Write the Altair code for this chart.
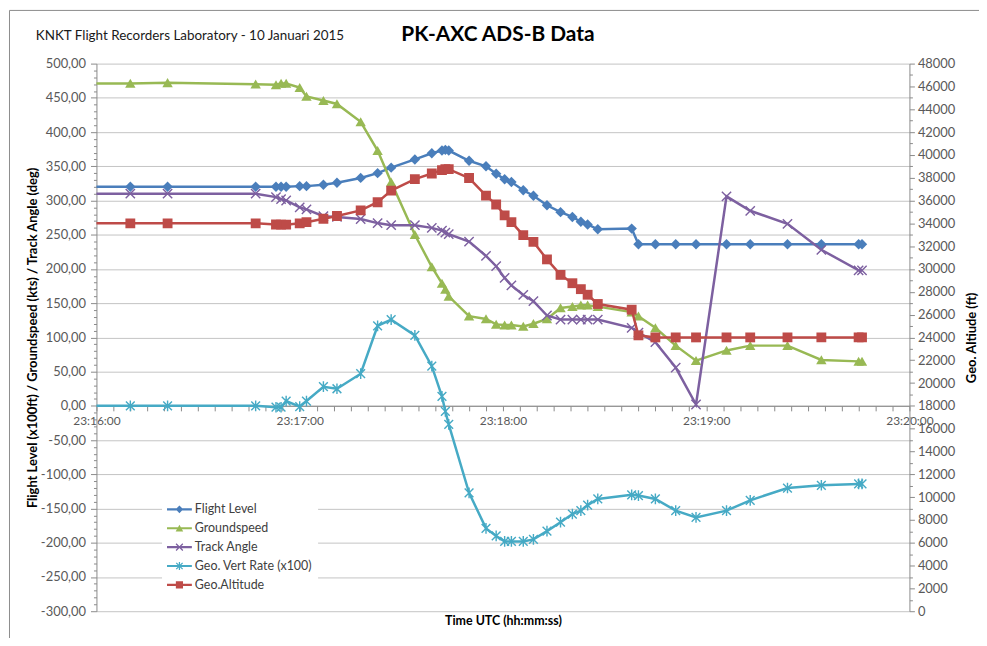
import altair as alt
import pandas as pd

# ---------------- data (seconds after 23:16:00) ----------------
T = [-10, 10, 21, 47, 53, 54.5, 56, 60, 62, 67,
     71, 78, 83, 87, 94, 99, 102, 103, 104, 110,
     115, 118, 120.5, 122.5, 126, 129, 133, 137, 140.5, 143,
     145, 148, 158, 160, 165, 171, 177, 186, 193, 204,
     214, 225, 226]

FLIGHT_LEVEL = [320, 320, 320, 320, 320, 320, 320, 321, 321, 323,
                326, 333, 340, 348, 360, 369, 373, 374, 373, 358,
                350, 339, 331, 327, 315, 307, 293, 283, 276, 269,
                265, 258, 259, 236, 236, 236, 236, 236, 236, 236,
                236, 236, 236]

GROUNDSPEED = [471, 471, 472, 470, 469, 471, 471, 465, 452, 446,
               441, 415, 373, 327, 250, 203, 179, 170, 160, 131,
               127, 119, 118, 118, 116, 120, 127, 143, 145, 147,
               147, 145, 137, 131, 114, 88, 66, 81, 88, 88,
               67, 65, 65]

TRACK_ANGLE = [310, 310, 310, 310, 305, 302, 300, 290, 287, 277,
               276, 273, 267, 264, 264, 260, 256, 253, 251, 240,
               219, 204, 187, 176, 162, 153, 132, 126, 126, 126,
               126, 126, 114, 107, 93, 56, 2, 306, 285, 266,
               228, 198, 198]

VERT_RATE = [0, 0, 0, 0, -2, -2, 7, -1, 7, 28,
             25, 47, 117, 126, 103, 58, 14, -8, -27, -127,
             -179, -190, -198, -198, -198, -195, -183, -170, -158, -153,
             -145, -136, -130, -131, -136, -153, -163, -153, -138, -120,
             -116, -114, -114]

GEO_ALT = [34000, 34000, 34000, 34000, 33900, 33880, 33880, 34000, 34100, 34400,
           34640, 35130, 35850, 36870, 37880, 38370, 38660, 38750, 38750, 37970,
           36430, 35650, 34700, 34110, 32960, 32370, 30840, 29480, 28750, 28230,
           27740, 26930, 26430, 24180, 24000, 24000, 24000, 24000, 24000, 24000,
           24000, 24000, 24000]

SERIES = ["Flight Level", "Groundspeed", "Track Angle", "Geo. Vert Rate (x100)", "Geo.Altitude"]
COLORS = ["#4A7EBB", "#98B954", "#7D60A0", "#46AAC5", "#BE4B48"]

X_TICKS = list(range(0, 241, 5))
LEFT_TICKS = list(range(-300, 501, 10))
RIGHT_TICKS = list(range(0, 48001, 1000))

TITLE = ["PK-AXC ADS-B Data"]
SUBTITLE = ["KNKT Flight Recorders Laboratory - 10 Januari 2015"]

# ---------------- marker shapes ----------------
def poly(pts):
    n = len(pts)
    a = sum(pts[i][0] * pts[(i + 1) % n][1] - pts[(i + 1) % n][0] * pts[i][1] for i in range(n))
    if a > 0:
        pts = pts[::-1]
    return "M" + "L".join(f"{x:.3f},{y:.3f}" for x, y in pts) + "Z"


def bar(x1, y1, x2, y2, hw):
    dx, dy = x2 - x1, y2 - y1
    L = (dx * dx + dy * dy) ** 0.5
    nx, ny = -dy / L * hw, dx / L * hw
    return poly([(x1 + nx, y1 + ny), (x2 + nx, y2 + ny), (x2 - nx, y2 - ny), (x1 - nx, y1 - ny)])


def marker_paths(s, hw):
    diamond = poly([(0, -0.95 * s), (0.95 * s, 0), (0, 0.95 * s), (-0.95 * s, 0)])
    tri = poly([(0, -0.85 * s), (0.95 * s, 0.8 * s), (-0.95 * s, 0.8 * s)])
    xm = bar(-0.85 * s, -0.85 * s, 0.85 * s, 0.85 * s, hw) + bar(-0.85 * s, 0.85 * s, 0.85 * s, -0.85 * s, hw)
    star = (bar(-0.8 * s, -0.8 * s, 0.8 * s, 0.8 * s, hw) + bar(-0.8 * s, 0.8 * s, 0.8 * s, -0.8 * s, hw)
            + bar(0, -0.98 * s, 0, 0.98 * s, hw))
    sq = poly([(-0.9 * s, -0.9 * s), (0.9 * s, -0.9 * s), (0.9 * s, 0.9 * s), (-0.9 * s, 0.9 * s)])
    return [diamond, tri, xm, star, sq]


DATA_SHAPES = marker_paths(1.0, 0.13)
LINE_SEG = bar(-1, 0, 1, 0, 0.085)
LEGEND_SHAPES = [LINE_SEG + p for p in marker_paths(0.32, 0.05)]

# ---------------- layout ----------------
W, H = 818, 551
FONT = "Lato"
AXIS_GRAY = "#8a8a8a"
LABEL_COLOR = "#595959"

left_df = pd.concat(
    [pd.DataFrame({"t": T, "value": vals, "series": name})
     for name, vals in zip(SERIES[:4], [FLIGHT_LEVEL, GROUNDSPEED, TRACK_ANGLE, VERT_RATE])],
    ignore_index=True,
)
right_df = pd.DataFrame({"t": T, "value": GEO_ALT, "series": SERIES[4]})

x_axis = alt.Axis(
    values=X_TICKS,
    labelExpr="datum.value % 60 === 0 ? '23:' + (16 + datum.value / 60) + ':00' : ''",
    labelOverlap=False,
    labelFlush=False,
    offset=-H * 300 / 800,
    grid=False,
    domainColor=AXIS_GRAY,
    tickColor=AXIS_GRAY,
    tickSize=5,
    labelPadding=5,
    labelFont=FONT,
    labelFontSize=12,
    labelColor=LABEL_COLOR,
    title="Time UTC (hh:mm:ss)",
    titleFont=FONT,
    titleFontSize=12.5,
    titleFontWeight="bold",
    titleColor="#000000",
    titleBaseline="middle",
    titleY=216,
)
x_enc = alt.X("t:Q", scale=alt.Scale(domain=[0, 240], nice=False, zero=False), axis=x_axis)

color_scale = alt.Scale(domain=SERIES, range=COLORS)

left_axis = alt.Axis(
    values=LEFT_TICKS,
    labelExpr="datum.value % 50 === 0 ? (datum.value < 0 ? '-' : '') + replace(format(abs(datum.value), '.2f'), '.', ',') : ''",
    labelOverlap=False,
    grid=True,
    gridColor="#c4c4c4",
    gridWidth=1,
    gridOpacity={"condition": {"test": "datum.value % 50 === 0", "value": 1}, "value": 0},
    tickSize={"condition": {"test": "datum.value % 50 === 0", "value": 6}, "value": 3},
    tickColor=AXIS_GRAY,
    domainColor=AXIS_GRAY,
    labelPadding=5,
    labelFont=FONT,
    labelFontSize=13,
    labelColor=LABEL_COLOR,
    title="Flight Level (x100ft) / Groundspeed (kts) / Track Angle (deg)",
    titleFont=FONT,
    titleFontSize=13,
    titleFontWeight="bold",
    titleColor="#000000",
    titleAngle=270,
    titleAlign="center",
    titleBaseline="middle",
    titleX=-64,
    titleY=H / 2,
)
left_y = alt.Y("value:Q", scale=alt.Scale(domain=[-300, 500], nice=False, zero=False), axis=left_axis)

right_axis = alt.Axis(
    orient="right",
    values=RIGHT_TICKS,
    labelExpr="datum.value % 2000 === 0 ? '' + datum.value : ''",
    labelOverlap=False,
    grid=False,
    tickSize={"condition": {"test": "datum.value % 2000 === 0", "value": 5}, "value": 3},
    tickColor=AXIS_GRAY,
    domainColor=AXIS_GRAY,
    labelPadding=3,
    labelFont=FONT,
    labelFontSize=13,
    labelColor=LABEL_COLOR,
    title="Geo. Altiude (ft)",
    titleFont=FONT,
    titleFontSize=13,
    titleFontWeight="bold",
    titleColor="#000000",
    titleAngle=270,
    titleAlign="center",
    titleBaseline="middle",
    titleX=62,
    titleY=H / 2,
)
right_y = alt.Y("value:Q", scale=alt.Scale(domain=[0, 48000], nice=False, zero=False), axis=right_axis)


def group(df, y_enc):
    line = alt.Chart(df).mark_line(strokeWidth=2.5, clip=True).encode(
        x=x_enc, y=y_enc,
        color=alt.Color("series:N", scale=color_scale, legend=None),
        detail="series:N",
    )
    pts = alt.Chart(df).mark_point(filled=True, opacity=1, size=121, clip=True).encode(
        x=x_enc, y=y_enc,
        color=alt.Color("series:N", scale=color_scale, legend=None),
        shape=alt.Shape("series:N", scale=alt.Scale(domain=SERIES, range=DATA_SHAPES), legend=None),
    )
    return alt.layer(line, pts)


left_group = group(left_df, left_y)
right_group = group(right_df, right_y)

legend_def = alt.Legend(
    title=None,
    orient="none",
    legendX=66,
    legendY=431,
    fillColor="#ffffff",
    padding=5,
    symbolSize=625,
    rowPadding=-6,
    labelOffset=3,
    labelFont=FONT,
    labelFontSize=12.5,
    labelColor="#404040",
    symbolStrokeWidth=0,
)
legend_layer = alt.Chart(left_df).mark_point(filled=True, opacity=1).encode(
    color=alt.Color("series:N", scale=color_scale, legend=legend_def),
    shape=alt.Shape("series:N", scale=alt.Scale(domain=SERIES, range=LEGEND_SHAPES), legend=legend_def),
).transform_filter("false")

title_layer = alt.Chart(pd.DataFrame({"txt": TITLE})).mark_text(
    font=FONT, fontSize=21, fontWeight="bold", color="#000000", align="center", baseline="middle"
).encode(x=alt.value(404), y=alt.value(-29), text="txt:N")

sub_layer = alt.Chart(pd.DataFrame({"txt": SUBTITLE})).mark_text(
    font=FONT, fontSize=13.5, color="#1a1a1a", align="left", baseline="middle"
).encode(x=alt.value(-61), y=alt.value(-28), text="txt:N")

frame_df = pd.DataFrame({"k": [0]})
frame_top = alt.Chart(frame_df).mark_rule(stroke="#8c8c8c", strokeWidth=1).encode(
    x=alt.value(-87.5), x2=alt.value(W + 100), y=alt.value(-53.5)
)
frame_left = alt.Chart(frame_df).mark_rule(stroke="#8c8c8c", strokeWidth=1).encode(
    x=alt.value(-87.5), y=alt.value(-53.5), y2=alt.value(H + 100)
)

chart = (
    alt.layer(frame_top, frame_left, left_group, right_group, legend_layer, title_layer, sub_layer)
    .resolve_scale(y="independent", color="independent", shape="independent")
    .properties(
        width=W,
        height=H,
        autosize=alt.AutoSizeParams(type="none"),
        padding={"left": 89, "top": 54, "right": 70, "bottom": 25},
    )
    .configure_view(stroke="transparent")
)

chart.save("out.html", embed_options={"renderer": "svg", "actions": False})
